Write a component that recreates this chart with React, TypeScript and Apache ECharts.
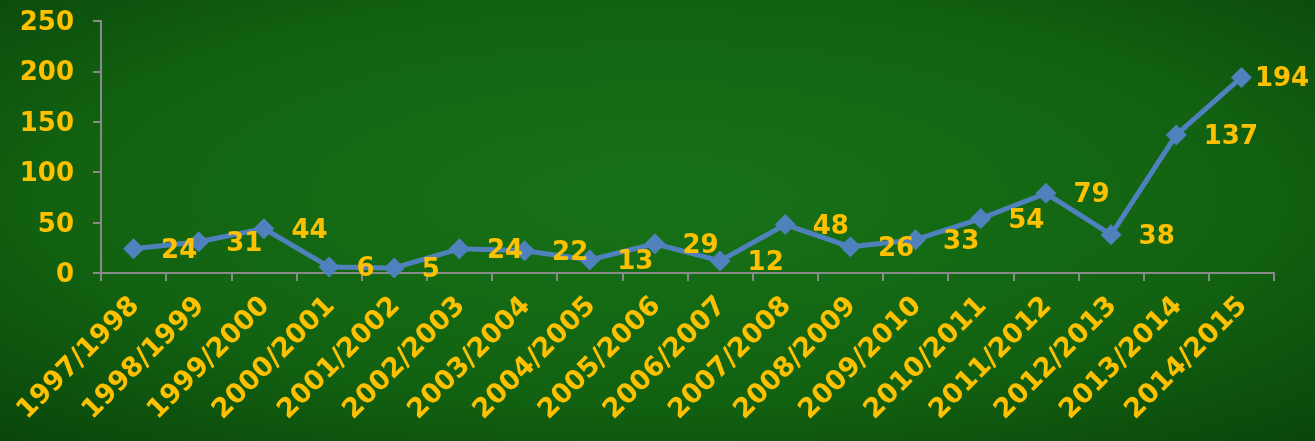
import React, { useEffect, useRef } from "react";
import * as echarts from "echarts";

const categories = [
  "1997/1998", "1998/1999", "1999/2000", "2000/2001", "2001/2002", "2002/2003",
  "2003/2004", "2004/2005", "2005/2006", "2006/2007", "2007/2008", "2008/2009",
  "2009/2010", "2010/2011", "2011/2012", "2012/2013", "2013/2014", "2014/2015",
];
const values = [24, 31, 44, 6, 5, 24, 22, 13, 29, 12, 48, 26, 33, 54, 79, 38, 137, 194];
const yTicks = { min: 0, max: 250, interval: 50 };

const GOLD = "#FFC000";
const FONT = "Verdana, 'DejaVu Sans', sans-serif";

export default function App() {
  const ref = useRef<HTMLDivElement>(null);
  useEffect(() => {
    if (!ref.current) return;
    const chart = echarts.init(ref.current, undefined, { renderer: "svg" });
    const last = values.length - 1;
    chart.setOption({
      animation: false,
      backgroundColor: new echarts.graphic.RadialGradient(0.5, 0.45, 0.75, [
        { offset: 0, color: "#177217" },
        { offset: 0.6, color: "#126211" },
        { offset: 1, color: "#0a450a" },
      ]),
      grid: { left: 101, right: 41, top: 21, bottom: 168, containLabel: false },
      xAxis: {
        type: "category",
        data: categories,
        boundaryGap: true,
        axisLine: { lineStyle: { color: "#8a8a8a", width: 2 } },
        axisTick: { show: true, length: 8, lineStyle: { color: "#8a8a8a", width: 2 } },
        axisLabel: {
          rotate: 45,
          margin: 27,
          interval: 0,
          color: GOLD,
          fontSize: 27,
          fontWeight: "bold",
          fontFamily: FONT,
        },
        splitLine: { show: false },
      },
      yAxis: {
        type: "value",
        min: yTicks.min,
        max: yTicks.max,
        interval: yTicks.interval,
        axisLine: { show: true, lineStyle: { color: "#8a8a8a", width: 2 } },
        axisTick: { show: true, length: 8, lineStyle: { color: "#8a8a8a", width: 2 } },
        axisLabel: {
          margin: 27,
          color: GOLD,
          fontSize: 26,
          fontWeight: "bold",
          fontFamily: FONT,
        },
        splitLine: { show: false },
      },
      series: [
        {
          type: "line",
          data: values.map((v, i) =>
            i === last ? { value: v, label: { distance: 3 } } : v
          ),
          symbol: "diamond",
          symbolSize: 21,
          lineStyle: { color: "#4F81BD", width: 5 },
          itemStyle: { color: "#4F81BD" },
          label: {
            show: true,
            position: "right",
            distance: 17,
            color: GOLD,
            fontSize: 26,
            fontWeight: "bold",
            fontFamily: FONT,
          },
        },
      ],
    });
    return () => chart.dispose();
  }, []);
  return (
    <div
      ref={ref}
      style={{ position: "fixed", left: 0, top: 0, width: 1315, height: 441 }}
    />
  );
}
